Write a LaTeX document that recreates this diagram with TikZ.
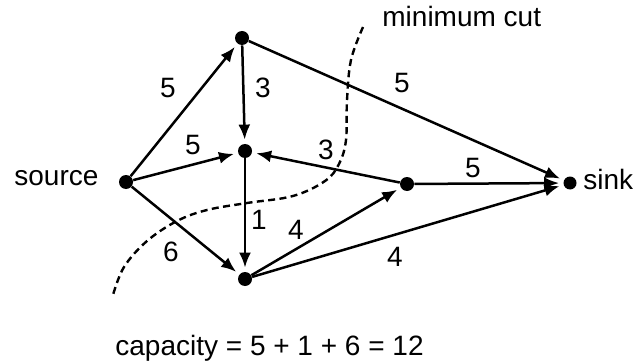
\documentclass[tikz,border=0pt]{standalone}
\usepackage{fontspec}
\setmainfont{Liberation Sans}
\usetikzlibrary{arrows.meta}
\begin{document}
\begin{tikzpicture}[x=0.5pt,y=-0.5pt,
  vtx/.style={circle,fill=black,inner sep=0pt,minimum size=7pt},
  edge/.style={line width=1.25pt,-{Latex[length=7.5pt,width=6pt]},shorten >=2pt},
  lbl/.style={font=\fontsize{14}{17}\selectfont,inner sep=0pt},
  txt/.style={font=\fontsize{14}{17}\selectfont,inner sep=0pt,anchor=base},
  cut/.style={line width=1.2pt,dash pattern=on 3.5pt off 2.2pt}]
\useasboundingbox (0,0) rectangle (635,363);
\node[vtx] (s) at (126,182) {};
\node[vtx] (a) at (242,38) {};
\node[vtx] (m) at (245,151) {};
\node[vtx] (b) at (245,279) {};
\node[vtx] (r) at (407,184) {};
\node[vtx,minimum size=6.5pt] (t) at (570,183) {};
\draw[edge] (s) -- (a);
\draw[edge] (a) -- (m);
\draw[edge] (a) -- (t);
\draw[edge] (s) -- (m);
\draw[edge] (s) -- (b);
\draw[edge] (m) -- (b);
\draw[edge] (r) -- (m);
\draw[edge] (b) -- (r);
\draw[edge] (r) -- (t);
\draw[edge] (b) -- (t);
\node[lbl] (l1) at (168,88) {5};
\node[lbl] (l2) at (263,88) {3};
\node[lbl] (l3) at (402,83) {5};
\node[lbl] (l4) at (193,145) {5};
\node[lbl] (l5) at (326,150) {3};
\node[lbl] (l6) at (473,168) {5};
\node[lbl] (l7) at (259,220) {1};
\node[lbl] (l8) at (296,230) {4};
\node[lbl] (l9) at (171,252) {6};
\node[lbl] (l10) at (395,257) {4};
\node[txt,anchor=base west] (src) at (14,185) {source};
\node[txt,anchor=base west] (snk) at (583,189) {sink};
\node[txt,anchor=base west] (mc) at (382,27) {minimum cut};
\node[txt,anchor=base west] (cap) at (115,355) {capacity = 5 + 1 + 6 = 12};
\draw[cut] plot[smooth,tension=0.6] coordinates {(363,27) (351,60) (347,100) (346,140) (339,164) (325,181) (293,196) (247,203) (207,210) (177,221) (147,241) (124,267) (113,295)};
\end{tikzpicture}
\end{document}
